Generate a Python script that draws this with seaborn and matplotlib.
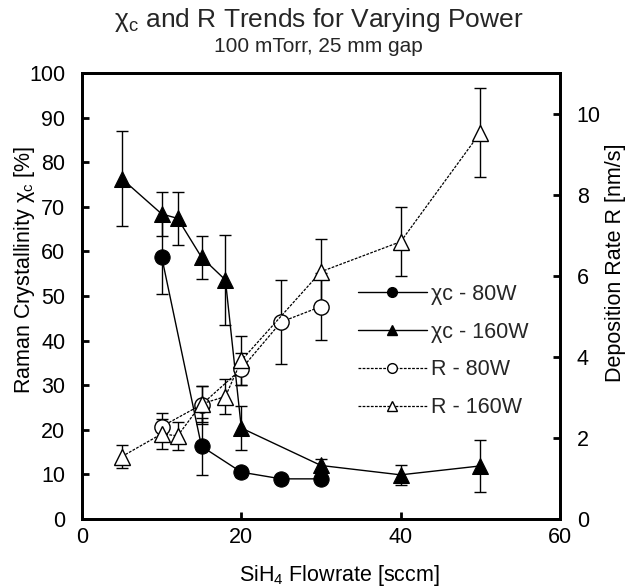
import matplotlib
matplotlib.use("Agg")
import matplotlib.pyplot as plt
import seaborn as sns
import pandas as pd
import numpy as np
from matplotlib.lines import Line2D

# ---- data ----
x_xc80 = [10, 15, 20, 25, 30]
xc80 = [58.8, 16.3, 10.5, 9.0, 9.0]
xc80_err = [8.4, 6.4, 1.0, 0.6, 0.6]

x_xc160 = [5, 10, 12, 15, 18, 20, 30, 40, 50]
xc160 = [76.3, 68.4, 67.4, 58.7, 53.6, 20.4, 12.0, 9.9, 11.9]
xc160_err = [10.7, 5.0, 6.0, 4.8, 10.0, 5.0, 1.5, 2.3, 5.9]

x_r80 = [10, 15, 20, 25, 30]
r80 = [2.28, 2.82, 3.70, 4.86, 5.24]
r80_err = [0.33, 0.47, 0.40, 1.04, 0.82]

x_r160 = [5, 10, 12, 15, 18, 20, 30, 40, 50]
r160 = [1.54, 2.10, 2.05, 2.84, 3.02, 3.91, 6.10, 6.84, 9.53]
r160_err = [0.28, 0.37, 0.35, 0.45, 0.43, 0.60, 0.80, 0.85, 1.10]

labels = ["χc - 80W", "χc - 160W", "R - 80W", "R - 160W"]

sns.set_theme(style="ticks")
plt.rcParams['font.family'] = ['Liberation Sans', 'DejaVu Sans']
plt.rcParams['mathtext.fontset'] = 'custom'
plt.rcParams['mathtext.rm'] = 'Liberation Sans'
plt.rcParams['mathtext.it'] = 'Liberation Sans'

W, H = 637, 586
fig = plt.figure(figsize=(W / 100, H / 100), dpi=100)
ax = fig.add_axes([82 / W, 1 - 519 / H, (560 - 82) / W, (519 - 73) / H])
ax2 = ax.twinx()

ms = 11
dash = (0, (2.2, 1.1))
err_kw = dict(fmt='none', ecolor='black', elinewidth=1.0, capsize=4.5, capthick=1.0)

df1 = pd.DataFrame({"x": x_xc80, "y": xc80})
df2 = pd.DataFrame({"x": x_xc160, "y": xc160})
df3 = pd.DataFrame({"x": x_r80, "y": r80})
df4 = pd.DataFrame({"x": x_r160, "y": r160})

ax.errorbar(x_xc80, xc80, yerr=xc80_err, **err_kw)
ax.errorbar(x_xc160, xc160, yerr=xc160_err, **err_kw)
sns.lineplot(data=df1, x="x", y="y", ax=ax, color='black', lw=1.0, marker='o',
             markersize=ms, markerfacecolor='black', markeredgecolor='black', legend=False)
sns.lineplot(data=df2, x="x", y="y", ax=ax, color='black', lw=1.0, marker='^',
             markersize=ms + 1, markerfacecolor='black', markeredgecolor='black', legend=False)

ax2.errorbar(x_r80, r80, yerr=r80_err, **err_kw)
ax2.errorbar(x_r160, r160, yerr=r160_err, **err_kw)
sns.lineplot(data=df3, x="x", y="y", ax=ax2, color='black', lw=0.9, marker='o',
             markersize=ms, markerfacecolor='white', markeredgecolor='black', markeredgewidth=1.0,
             legend=False)
sns.lineplot(data=df4, x="x", y="y", ax=ax2, color='black', lw=0.9, marker='^',
             markersize=ms + 1, markerfacecolor='white', markeredgecolor='black', markeredgewidth=1.0,
             legend=False)
for ln in ax2.get_lines()[-2:]:
    ln.set_linestyle(dash)

ax.set_xlim(0, 60)
ax.set_ylim(0, 100)
ax2.set_ylim(0, 11)
ax.set_xticks([0, 20, 40, 60])
ax.set_yticks(np.arange(0, 101, 10))
ax2.set_yticks(np.arange(0, 11, 2))

fs = 15.5
for a in (ax, ax2):
    a.tick_params(direction='in', length=5, width=2, labelsize=fs, colors='black')
    a.tick_params(axis='y', pad=12)
    a.tick_params(axis='x', pad=6)
    for s in a.spines.values():
        s.set_linewidth(2)
        s.set_color('black')
        s.set_visible(True)

ax.set_xlabel("SiH$_4$ Flowrate [sccm]", fontsize=fs, color='black')
ax.xaxis.label.set_va('center')
ax.xaxis.set_label_coords((339 - 82) / 478, (519 - 575) / 446)

ax.set_ylabel("Raman Crystallinity χ$_c$ [%]", fontsize=fs, color='black')
ax.yaxis.label.set_va('center')
ax.yaxis.set_label_coords((25 - 82) / 478, (519 - 270) / 446)

ax2.set_ylabel("Deposition Rate R [nm/s]", fontsize=fs, color='black')
ax2.yaxis.label.set_va('center')
ax2.yaxis.set_label_coords((615 - 82) / 478, (519 - 263) / 446)

fig.text(0.5, 1 - 20 / H, "χ$_c$ and R Trends for Varying Power", ha='center', va='center', fontsize=19)
fig.text(0.5, 1 - 46 / H, "100 mTorr, 25 mm gap", ha='center', va='center', fontsize=15)

handles = [
    Line2D([], [], color='black', lw=1.0, marker='o', markersize=7, markerfacecolor='black'),
    Line2D([], [], color='black', lw=1.0, marker='^', markersize=7, markerfacecolor='black'),
    Line2D([], [], color='black', lw=0.9, ls=dash, marker='o', markersize=7, markerfacecolor='white'),
    Line2D([], [], color='black', lw=0.9, ls=dash, marker='^', markersize=7, markerfacecolor='white'),
]
ax2.legend(handles, labels, loc='center left', bbox_to_anchor=((358 - 82) / 478, (519 - 351) / 446),
           frameon=False, fontsize=fs, handlelength=3.2, handletextpad=0.2, labelspacing=0.78,
           borderpad=0, borderaxespad=0)

fig.savefig("out.png", dpi=100)
